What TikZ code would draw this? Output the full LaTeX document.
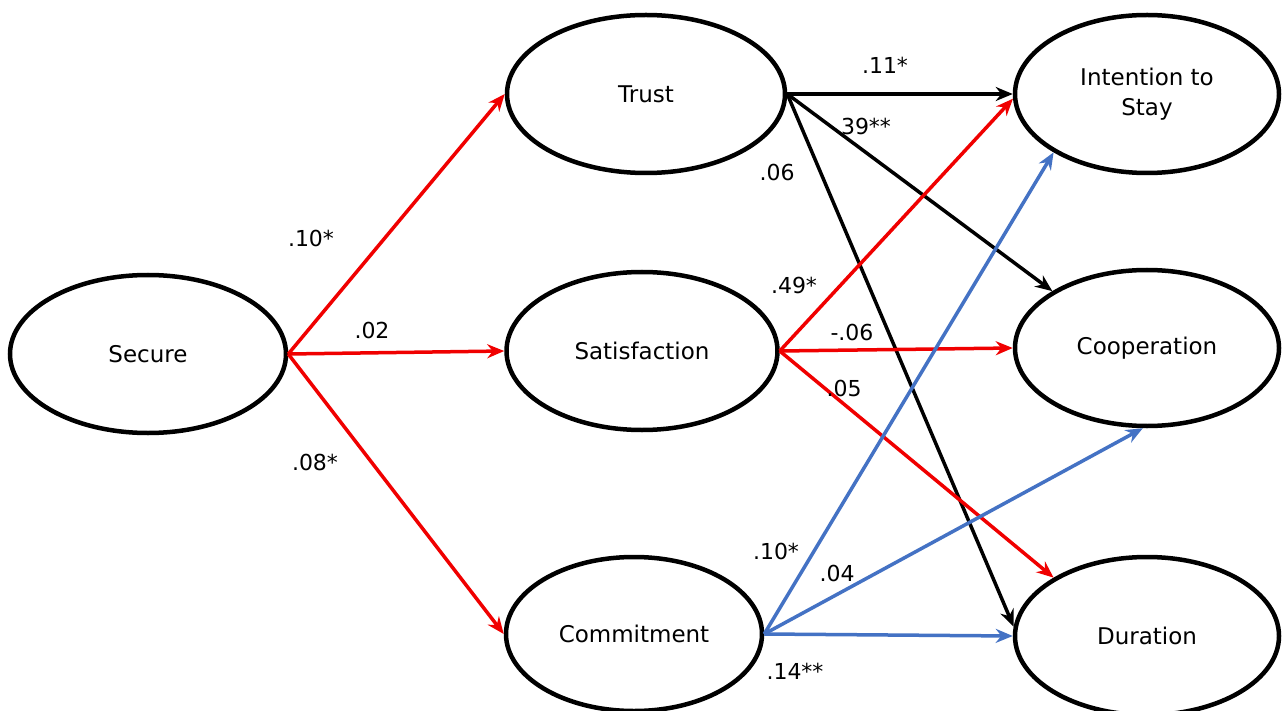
\documentclass[tikz,border=0pt]{standalone}
\usepackage{fontspec}
\setmainfont{DejaVu Sans}
\usetikzlibrary{shapes.geometric,arrows.meta}
\definecolor{myred}{RGB}{240,0,0}
\definecolor{myblue}{RGB}{68,114,196}
\begin{document}
\begin{tikzpicture}[x=1pt,y=-1pt,
  latent/.style={ellipse,draw=black,line width=4.5pt,inner sep=0pt,align=center,
    font=\fontsize{23}{30}\selectfont},
  link/.style={line width=3.5pt,-{Stealth[length=17pt,width=14pt]}},
  coef/.style={font=\fontsize{22}{24}\selectfont,inner sep=0pt},
]
\useasboundingbox (0,0) rectangle (1287,711);
\fill[white] (0,0) rectangle (1287,711);

% latent variables
\node[latent,minimum width=276pt,minimum height=158pt] (sec)  at (148,354) {Secure};
\node[latent,minimum width=278pt,minimum height=158pt] (tru)  at (646,94)  {Trust};
\node[latent,minimum width=271pt,minimum height=158pt] (sat)  at (642,351) {Satisfaction};
\node[latent,minimum width=256pt,minimum height=154pt] (com)  at (634,634) {Commitment};
\node[latent,minimum width=264pt,minimum height=158pt] (int)  at (1147,94) {Intention to\\Stay};
\node[latent,minimum width=264pt,minimum height=156pt] (coo)  at (1147,348) {Cooperation};
\node[latent,minimum width=264pt,minimum height=158pt] (dur)  at (1147,636) {Duration};

% Secure paths
\draw[link,myred] (sec.east) -- (tru.west);
\draw[link,myred] (sec.east) -- (sat.west);
\draw[link,myred] (sec.east) -- (com.west);

% Trust paths
\draw[link,black] (tru.east) -- (int.west);
\draw[link,black] (tru.east) -- (coo.149);
\draw[link,black] (tru.east) -- (dur.176);

% Satisfaction paths
\draw[link,myred] (sat.east) -- (int.182);
\draw[link,myred] (sat.east) -- (coo.west);
\draw[link,myred] (sat.east) -- (dur.148);

% Commitment paths
\draw[link,myblue] (com.east) -- (int.212);
\draw[link,myblue] (com.east) -- (coo.267);
\draw[link,myblue] (com.east) -- (dur.west);

% coefficients
\node[coef] (c1)  at (311,238) {.10*};
\node[coef] (c2)  at (372,330) {.02};
\node[coef] (c3)  at (315,462) {.08*};
\node[coef] (c4)  at (885,65)  {.11*};
\node[coef] (c5)  at (866,126) {39**};
\node[coef] (c6)  at (777,172) {.06};
\node[coef] (c7)  at (794,285) {.49*};
\node[coef] (c8)  at (852,332) {-.06};
\node[coef] (c9)  at (844,388) {.05};
\node[coef] (c10) at (776,551) {.10*};
\node[coef] (c11) at (837,573) {.04};
\node[coef] (c12) at (795,671) {.14**};
\end{tikzpicture}
\end{document}
